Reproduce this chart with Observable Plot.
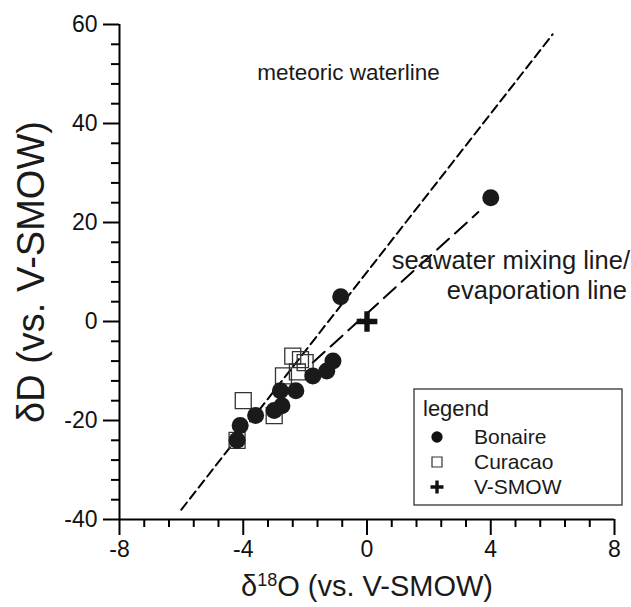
<!DOCTYPE html>
<html>
<head>
<meta charset="utf-8">
<script src="https://cdn.jsdelivr.net/npm/d3@7"></script>
<script src="https://cdn.jsdelivr.net/npm/@observablehq/plot@0.6"></script>
<style>
  html, body { margin: 0; padding: 0; background: #fff; }
  svg { display: block; }
</style>
</head>
<body>
<div id="chart"></div>
<script>
// ---- data ----
const bonaireX = [4.0, -0.85, -1.1, -1.3, -1.75, -2.3, -2.8, -2.75, -3.0, -3.6, -4.1, -4.2];
const bonaireY = [25, 5, -8, -10, -11, -14, -14, -17, -18, -19, -21, -24];
const curacaoX = [-4.2, -4.0, -3.0, -2.7, -2.4, -2.15, -2.0, -2.25];
const curacaoY = [-24, -16, -19, -11, -7, -7.7, -8.3, -10.2];
const smowX = [0];
const smowY = [0];
const meteoricX = [-6, 6];
const meteoricY = [-38, 58];
const mixingX = [-1.75, 3.6];
const mixingY = [-8.3, 22.1];
const xMajor = [-8, -4, 0, 4, 8];
const yMajor = [-40, -20, 0, 20, 40, 60];
const xMinor = [-7.2, -6.4, -5.6, -4.8, -3.2, -2.4, -1.6, -0.8, 0.8, 1.6, 2.4, 3.2, 4.8, 5.6, 6.4, 7.2];
const yMinor = [-36, -32, -28, -24, -16, -12, -8, -4, 4, 8, 12, 16, 24, 28, 32, 36, 44, 48, 52, 56];
const legendTitle = "legend";
const legendLabels = ["Bonaire", "Curacao", "V-SMOW"];
const xTitle = "δ18O (vs. V-SMOW)";
const yTitle = "δD (vs. V-SMOW)";
const meteoricLabel = [{text: "meteoric waterline", x: -0.6, y: 50.3}];
const mixingLabel = [
  {text: "seawater mixing line/", x: 8.5, y: 12.3},
  {text: "evaporation line", x: 8.4, y: 6.2}
];

const bonaire = bonaireX.map((x, i) => ({x, y: bonaireY[i]}));
const curacao = curacaoX.map((x, i) => ({x, y: curacaoY[i]}));
const smow = smowX.map((x, i) => ({x, y: smowY[i]}));
const meteoric = meteoricX.map((x, i) => ({x, y: meteoricY[i]}));
const mixing = mixingX.map((x, i) => ({x, y: mixingY[i]}));

const plusSymbol = {
  draw(ctx, size) {
    const r = Math.sqrt(size / Math.PI);
    const h = r * 1.15, t = r * 0.3;
    ctx.moveTo(-h, -t); ctx.lineTo(-t, -t); ctx.lineTo(-t, -h); ctx.lineTo(t, -h);
    ctx.lineTo(t, -t); ctx.lineTo(h, -t); ctx.lineTo(h, t); ctx.lineTo(t, t);
    ctx.lineTo(t, h); ctx.lineTo(-t, h); ctx.lineTo(-t, t); ctx.lineTo(-h, t);
    ctx.closePath();
  }
};

const FONT = "'Liberation Sans', Arial, Helvetica, sans-serif";
const fmt = d => String(d);

const svg = Plot.plot({
  width: 631,
  height: 607,
  marginLeft: 119,
  marginRight: 17,
  marginTop: 24,
  marginBottom: 88,
  style: {fontFamily: FONT, background: "#fff", color: "#000", overflow: "visible"},
  x: {domain: [-8, 8]},
  y: {domain: [-40, 60]},
  marks: [
    Plot.axisX({ticks: xMinor, tickSize: 8, strokeWidth: 2, tickFormat: () => "", label: null}),
    Plot.axisY({ticks: yMinor, tickSize: 8, strokeWidth: 2, tickFormat: () => "", label: null}),
    Plot.axisX({ticks: xMajor, tickSize: 16, tickPadding: 5, strokeWidth: 2, fontSize: 23, tickFormat: fmt, label: null, fill: "#111"}),
    Plot.axisY({ticks: yMajor, tickSize: 16, tickPadding: 6, strokeWidth: 2, fontSize: 23, tickFormat: fmt, label: null, fill: "#111"}),
    Plot.ruleX([-8], {stroke: "#000", strokeWidth: 2}),
    Plot.ruleY([-40], {stroke: "#000", strokeWidth: 2}),
    Plot.line(meteoric, {x: "x", y: "y", stroke: "#000", strokeWidth: 2, strokeDasharray: "9,5"}),
    Plot.line(mixing, {x: "x", y: "y", stroke: "#000", strokeWidth: 2, strokeDasharray: "16,8"}),
    Plot.dot(curacao, {x: "x", y: "y", symbol: "square", r: 9, fill: "none", stroke: "#333", strokeWidth: 1.3}),
    Plot.dot(bonaire, {x: "x", y: "y", symbol: "circle", r: 8.5, fill: "#1a1a1a", stroke: "none"}),
    Plot.dot(smow, {x: "x", y: "y", symbol: plusSymbol, r: 9, fill: "#111", stroke: "none"}),
    Plot.text(meteoricLabel, {x: "x", y: "y", text: "text", textAnchor: "middle", fontSize: 22.5, fill: "#1a1a1a"}),
    Plot.text(mixingLabel, {x: "x", y: "y", text: "text", textAnchor: "end", fontSize: 25.5, fill: "#1a1a1a"}),
    Plot.text([xTitle], {frameAnchor: "bottom", textAnchor: "middle", lineAnchor: "middle", dy: 67, fontSize: 29, fill: "#1a1a1a"}),
    Plot.text([yTitle], {frameAnchor: "left", textAnchor: "middle", lineAnchor: "middle", dx: -88, rotate: -90, fontSize: 38, fill: "#1a1a1a"})
  ]
});

// superscript in the x title
d3.select(svg).selectAll("text").filter(function() { return this.textContent === xTitle; }).each(function() {
  const t = d3.select(this);
  t.text(null);
  t.append("tspan").text("δ");
  t.append("tspan").attr("font-size", "18").attr("dy", "-10").text("18");
  t.append("tspan").attr("dy", "10").text("O (vs. V-SMOW)");
});

// legend box
const lg = d3.select(svg).append("g").attr("font-family", FONT).attr("fill", "#1a1a1a").attr("text-anchor", "start");
const bx = 414, by = 389, bw = 208, bh = 116;
lg.append("rect").attr("x", bx).attr("y", by).attr("width", bw).attr("height", bh)
  .attr("fill", "#fff").attr("stroke", "#333").attr("stroke-width", 1.3);
lg.append("text").attr("x", bx + 9).attr("y", by + 19).attr("dy", "0.35em")
  .attr("font-size", 22).text(legendTitle);
const syms = [d3.symbol(d3.symbolCircle, 100), d3.symbol(d3.symbolSquare, 100), d3.symbol(plusSymbol, 100)];
legendLabels.forEach((lab, i) => {
  const cy = by + 48 + i * 25;
  const p = lg.append("path").attr("d", syms[i]()).attr("transform", `translate(${bx + 23},${cy})`);
  if (i === 1) p.attr("fill", "none").attr("stroke", "#333").attr("stroke-width", 1.2);
  else p.attr("fill", "#111");
  lg.append("text").attr("x", bx + 60).attr("y", cy).attr("dy", "0.35em").attr("font-size", 21).text(lab);
});

document.getElementById("chart").appendChild(svg);
</script>
</body>
</html>
